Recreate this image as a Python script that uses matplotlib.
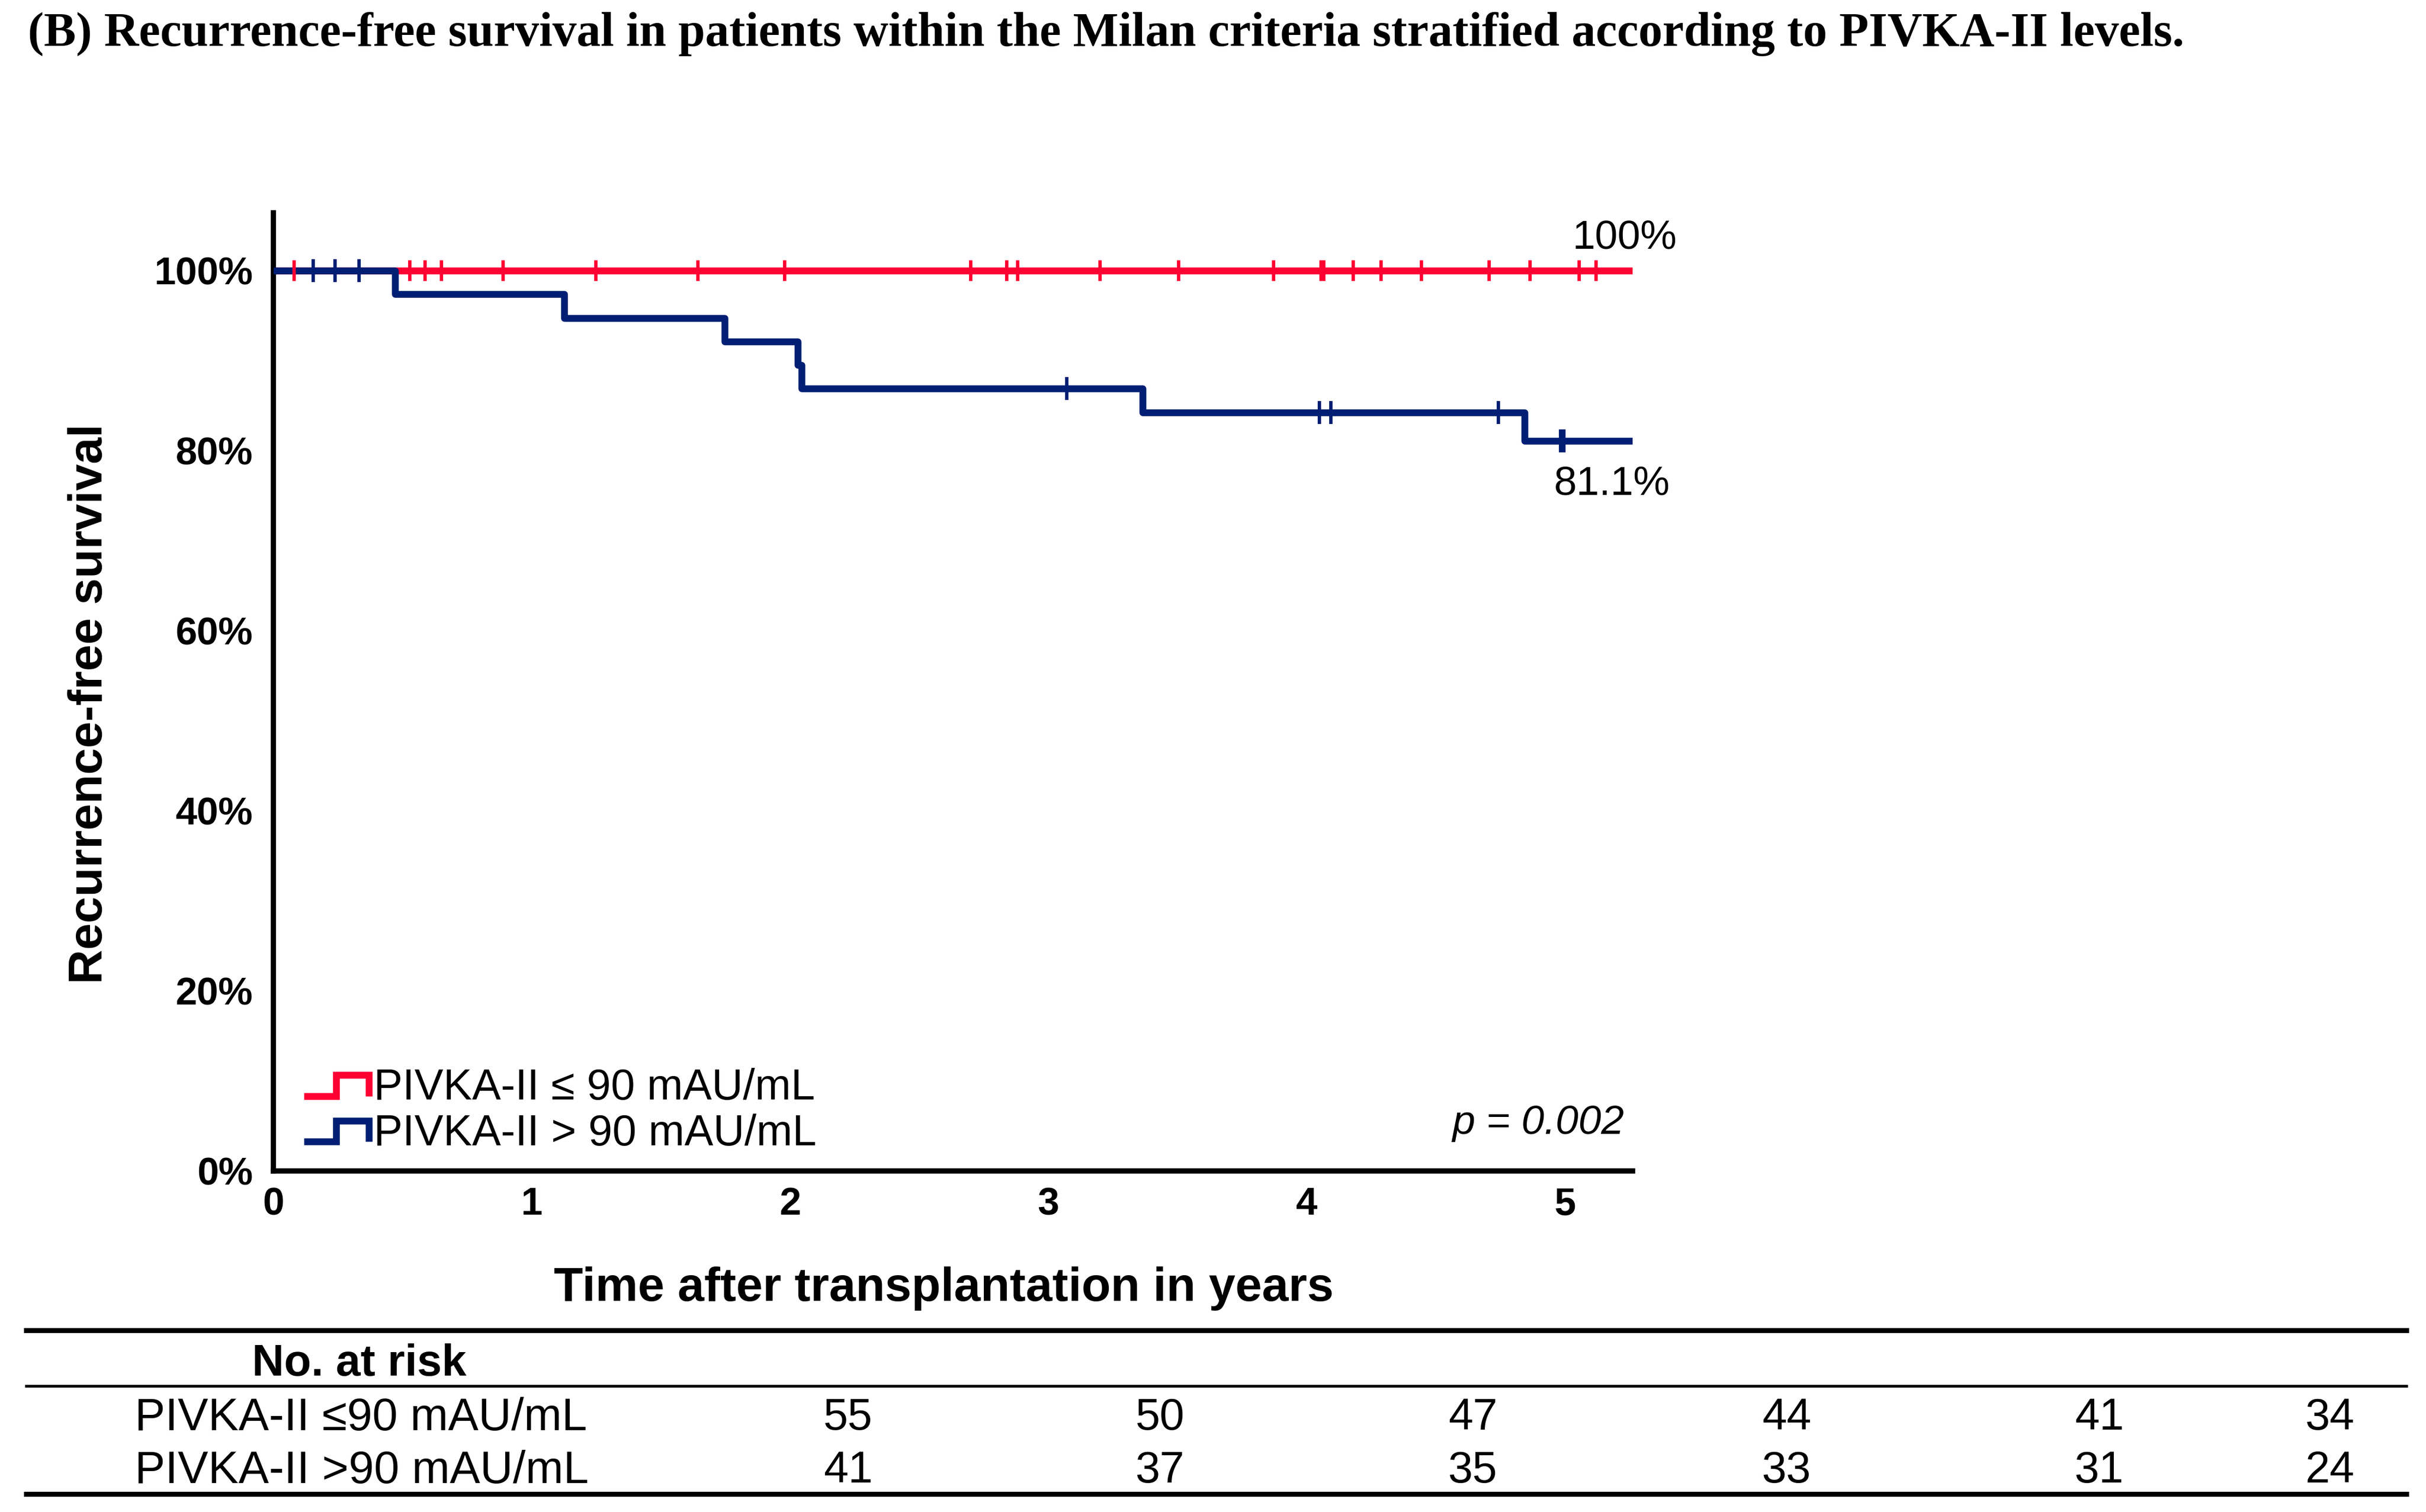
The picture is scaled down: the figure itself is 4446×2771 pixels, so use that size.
import numpy as np
import matplotlib
matplotlib.use("Agg")
import matplotlib.pyplot as plt
from matplotlib.lines import Line2D
from matplotlib.legend_handler import HandlerBase
from matplotlib.ticker import PercentFormatter

plt.rcParams["font.family"] = ["Liberation Sans", "DejaVu Sans"]

RED = "#FF0033"
NAVY = "#001E73"

# survival curves (years, proportion)
low_times = [0.0, 5.26]
low_surv = [1.0, 1.0]
low_censor = [0.080, 0.528, 0.586, 0.651, 0.888, 1.248, 1.642, 1.978, 2.698,
              2.838, 2.881, 3.200, 3.503, 3.870, 4.055, 4.065, 4.180, 4.288,
              4.443, 4.706, 4.864, 5.054, 5.120]

high_times = [0.0, 0.47, 1.125, 1.746, 2.03, 2.045, 3.365, 4.843, 5.26]
high_surv = [1.0, 0.974, 0.947, 0.921, 0.895, 0.869, 0.842, 0.811, 0.811]
high_censor = [0.155, 0.239, 0.332, 3.070, 4.049, 4.093, 4.742, 4.982, 4.994]

labels = ["PIVKA-II \u2264 90 mAU/mL", "PIVKA-II > 90 mAU/mL"]
end_labels = ["100%", "81.1%"]
p_text = "p = 0.002"

# number at risk table
risk_years = [0, 1, 2, 3, 4, 5]
risk_low = [55, 50, 47, 44, 41, 34]
risk_high = [41, 37, 35, 33, 31, 24]
risk_rows = ["PIVKA-II \u226490 mAU/mL", "PIVKA-II >90 mAU/mL"]


def surv_at(t, times, surv):
    idx = np.searchsorted(times, t, side="right") - 1
    return np.array(surv)[idx]


class StepHandler(HandlerBase):
    def create_artists(self, legend, orig_handle, xdescent, ydescent,
                       width, height, fontsize, trans):
        xs = np.array([0, 0.5, 0.5, 1.0, 1.0]) * width - xdescent
        ys = np.array([0.12, 0.12, 0.82, 0.82, 0.12]) * height - ydescent
        ln = Line2D(xs, ys, color=orig_handle.get_color(),
                    lw=orig_handle.get_linewidth(), solid_joinstyle="miter",
                    solid_capstyle="butt")
        ln.set_transform(trans)
        return [ln]


fig = plt.figure(figsize=(4446 / 300, 2771 / 300), dpi=300)
ax = fig.add_axes([0.1127, 0.2256, 0.5602, 0.6336])

l1, = ax.step(low_times, low_surv, where="post", color=RED, lw=3.0,
              solid_capstyle="butt", zorder=2)
l2, = ax.step(high_times, high_surv, where="post", color=NAVY, lw=3.0,
              solid_capstyle="butt", zorder=3)
ax.plot(low_censor, surv_at(low_censor, low_times, low_surv), ls="none",
        marker="|", ms=9, mew=1.5, color=RED, zorder=4)
ax.plot(high_censor, surv_at(high_censor, high_times, high_surv), ls="none",
        marker="|", ms=10, mew=1.5, color=NAVY, zorder=4)

ax.text(5.229, 1.036, end_labels[0], ha="center", va="center", fontsize=18)
ax.text(5.18, 0.763, end_labels[1], ha="center", va="center", fontsize=18)
ax.text(5.229, 0.053, p_text, ha="right", va="center", fontsize=18,
        style="italic")

ax.set_xlim(0, 5.26)
ax.set_ylim(0, 1.064)
ax.set_xticks(risk_years)
ax.set_yticks([0, 0.2, 0.4, 0.6, 0.8, 1.0])
ax.yaxis.set_major_formatter(PercentFormatter(1.0, decimals=0))
ax.tick_params(length=0, labelsize=17)
ax.tick_params(axis="y", pad=9)
ax.tick_params(axis="x", pad=7)
for t in ax.get_xticklabels() + ax.get_yticklabels():
    t.set_fontweight("bold")
for s in ["top", "right"]:
    ax.spines[s].set_visible(False)
for s in ["left", "bottom"]:
    ax.spines[s].set_linewidth(2.3)

ax.legend([l1, l2], labels, handler_map={Line2D: StepHandler()},
          loc="lower left", bbox_to_anchor=(0.0225, 0.017), frameon=False,
          fontsize=19, borderpad=0, borderaxespad=0, handlelength=1.5,
          handletextpad=0.12, labelspacing=0.11)

fig.text(0.0115, 0.9776,
         "(B) Recurrence-free survival in patients within the Milan criteria "
         "stratified according to PIVKA-II levels.",
         family="Liberation Serif", fontweight="bold", fontsize=21.2,
         ha="left", va="center")
fig.text(0.037, 0.5345, "Recurrence-free survival", rotation=90,
         fontsize=21, fontweight="bold", ha="center", va="center")
fig.text(0.389, 0.1478, "Time after transplantation in years",
         fontsize=21, fontweight="bold", ha="center", va="center")

# number at risk table
for y, lw in [(0.1202, 2.2), (0.0834, 1.2), (0.0119, 2.2)]:
    fig.add_artist(Line2D([0.0108, 0.992], [y, y], color="black", lw=lw,
                          transform=fig.transFigure))
fig.text(0.104, 0.0977, "No. at risk", fontsize=19.5, fontweight="bold",
         ha="left", va="center")
col_x = [0.3495, 0.4782, 0.6071, 0.7364, 0.8653, 0.9604]
row_y = [0.062, 0.027]
for name, counts, y in zip(risk_rows, [risk_low, risk_high], row_y):
    fig.text(0.0555, y, name, fontsize=20, ha="left", va="center")
    for x, n in zip(col_x, counts):
        fig.text(x, y, str(n), fontsize=19.5, ha="center", va="center")

fig.savefig("out.png", dpi=300, facecolor="white")
